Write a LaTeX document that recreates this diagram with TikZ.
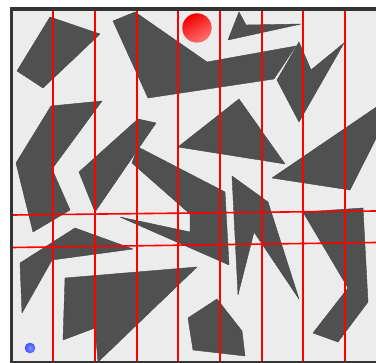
\documentclass[tikz,border=0pt]{standalone}
\usepackage{xcolor}
\usepackage{tikz}
\definecolor{obstaclegrey}{RGB}{80, 80, 80}
\definecolor{floorgrey}{RGB}{236, 236, 236}
\definecolor{framedark}{RGB}{52, 52, 52}
\definecolor{sweepred}{RGB}{255, 0, 0}
\definecolor{startblue}{RGB}{60, 80, 255}

\begin{document}
\begin{tikzpicture}[
    x=1pt, y=-1pt,
    obstacle/.style={fill=obstaclegrey, draw=obstaclegrey!85!black, line width=0.4pt, line join=round},
    sweepline/.style={draw=sweepred, line width=1.6pt},
    framebar/.style={fill=framedark}
]
\useasboundingbox (0,0) rectangle (376,363);
\clip (0,0) rectangle (376,363);

% Workspace
\fill[white] (0,0) rectangle (376,363);
\fill[floorgrey] (13,11) rectangle (376,361);
\fill[framebar] (10,7.5) rectangle (376,11);
\fill[framebar] (10,7.5) rectangle (13,363);
\fill[framebar] (10,361) rectangle (376,363);

% Obstacles
\filldraw[obstacle] (50,17) -- (100,34) -- (43,88) -- (17,71) -- cycle;
\filldraw[obstacle] (113,21) -- (135,12) -- (207,62) -- (296,46) -- (274,79) -- (148,98) -- cycle;
\filldraw[obstacle] (239,12) -- (246,25) -- (301,24) -- (228,40) -- cycle;
\filldraw[obstacle] (299,42) -- (311,70) -- (344,43) -- (299,122) -- (277,80) -- cycle;
\filldraw[obstacle] (51,106) -- (102,101) -- (52,169) -- (70,210) -- (33,232) -- (16,163) -- cycle;
\filldraw[obstacle] (138,119) -- (156,123) -- (95,212) -- (79,172) -- cycle;
\filldraw[obstacle] (132,163) -- (138,147) -- (225,192) -- (229,265) -- (120,217) -- (190,232) -- (190,214) -- cycle;
\filldraw[obstacle] (239,99) -- (178,147) -- (285,164) -- cycle;
\filldraw[obstacle] (272,178) -- (400,91) -- (350,190) -- cycle;
\filldraw[obstacle] (303,212) -- (363,208) -- (368,302) -- (338,342) -- (313,333) -- (348,288) -- cycle;
\filldraw[obstacle] (232,176) -- (268,202) -- (299,299) -- (254,232) -- (238,295) -- cycle;
\filldraw[obstacle] (75,228) -- (133,249) -- (52,260) -- (22,313) -- (20,263) -- cycle;
\filldraw[obstacle] (65,278) -- (197,267) -- (98,362) -- (95,328) -- (63,340) -- cycle;
\filldraw[obstacle] (217,299) -- (242,331) -- (245,356) -- (193,350) -- (188,318) -- cycle;

% Sweep lines
\foreach \sx in {53,95,137,178,220,262,303,345}
  \draw[sweepline] (\sx,11) -- (\sx,361);
\draw[sweepline] (13,215) -- (376,211);
\draw[sweepline] (13,247.5) -- (376,242.5);

% Goal and start
\shade[top color=red!95!black, bottom color=red!55!white, shading angle=30] (197,28) circle (14.7pt);
\shade[inner color=startblue!60!white, outer color=startblue] (30,348) circle (5.3pt);

\end{tikzpicture}
\end{document}
